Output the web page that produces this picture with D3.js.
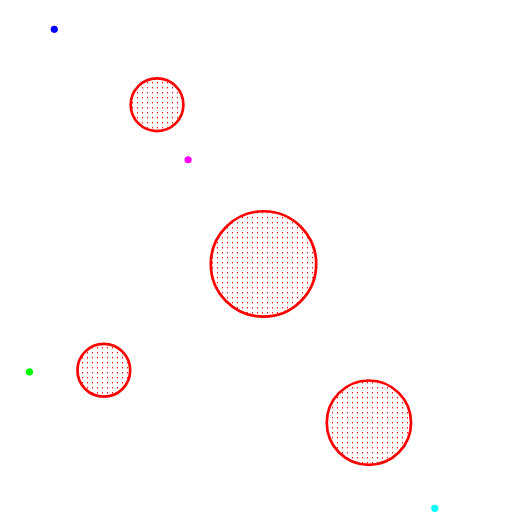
<!DOCTYPE html>
<html><head><meta charset="utf-8">
<script src="https://cdn.jsdelivr.net/npm/d3@7"></script>
<style>html,body{margin:0;padding:0;background:#fff;overflow:hidden}</style>
</head><body>
<script>
// Big patterned circles (data units: x, y in 0..10, r in data units)
const circleX = [2.98, 5, 1.97, 7];
const circleY = [1.98, 4.99, 7, 7.99];
const circleR = [0.5, 1.0, 0.5, 0.8];
// Small coloured points
const pointX = [1.03, 3.57, 0.56, 8.25];
const pointY = [0.555, 3.02, 7.03, 9.61];
const pointColor = ["blue", "magenta", "lime", "cyan"];

const W = 527, H = 529;
const x = d3.scaleLinear().domain([0, 10]).range([0, W]);
const y = d3.scaleLinear().domain([0, 10]).range([0, H]);

const svg = d3.select("body").append("svg").attr("width", W).attr("height", H);
const pat = svg.append("defs").append("pattern")
  .attr("id", "dots").attr("patternUnits", "userSpaceOnUse")
  .attr("width", 5).attr("height", 5);
pat.append("rect").attr("x", 2).attr("y", 2).attr("width", 1).attr("height", 1.4).attr("fill", "red");

const circles = circleX.map((v, i) => ({x: v, y: circleY[i], r: circleR[i]}));
svg.selectAll("circle.big").data(circles).join("circle")
  .attr("class", "big")
  .attr("cx", d => x(d.x)).attr("cy", d => y(d.y))
  .attr("r", d => x(d.r) - x(0))
  .attr("fill", "url(#dots)").attr("stroke", "red").attr("stroke-width", 2.7);

const pts = pointX.map((v, i) => ({x: v, y: pointY[i], c: pointColor[i]}));
svg.selectAll("circle.pt").data(pts).join("circle")
  .attr("class", "pt")
  .attr("cx", d => x(d.x)).attr("cy", d => y(d.y))
  .attr("r", 3.6).attr("fill", d => d.c);
</script>
</body></html>
